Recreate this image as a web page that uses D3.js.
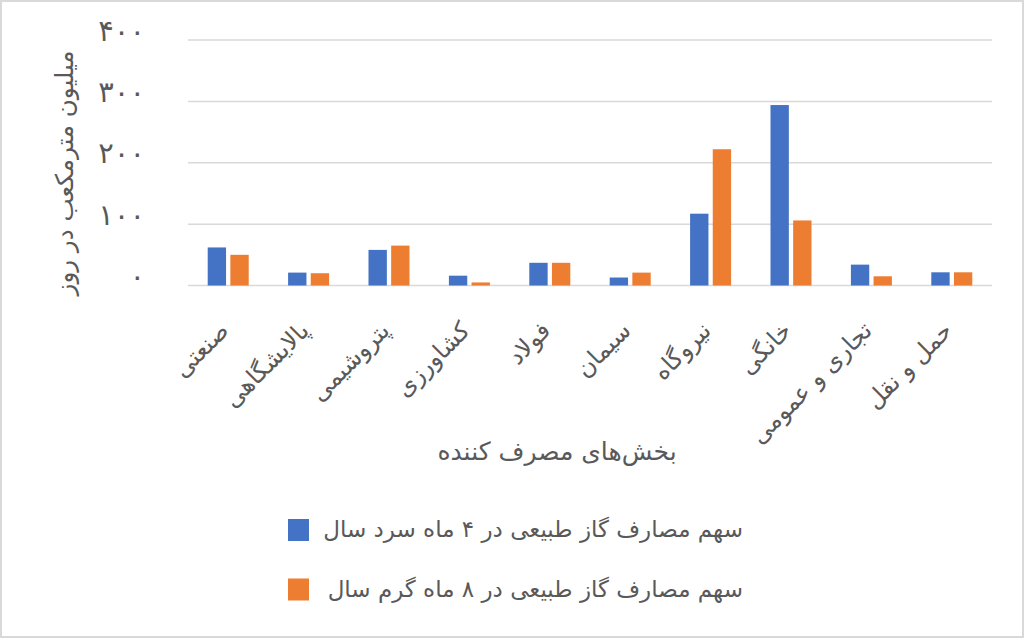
<!DOCTYPE html>
<html>
<head>
<meta charset="utf-8">
<script src="https://cdn.jsdelivr.net/npm/d3@7"></script>
<style>
  html, body { margin: 0; padding: 0; background: #fff; }
  svg { display: block; }
  text { font-family: "DejaVu Sans", sans-serif; fill: #595959; }
</style>
</head>
<body>
<svg id="chart" width="1024" height="638"></svg>
<script>

// categories (consumer sectors)
const categories = ["صنعتی", "پالایشگاهی", "پتروشیمی", "کشاورزی", "فولاد",
                    "سیمان", "نیروگاه", "خانگی", "تجاری و عمومی", "حمل و نقل"];

// series values, million cubic metres per day
const coldMonths = [62, 21, 58, 16, 37, 13, 117, 294, 34, 21.5];
const warmMonths = [50, 20, 65, 5, 37, 21, 222, 106, 15, 21.5];

const seriesNames = ["سهم مصارف گاز طبیعی در ۴ ماه سرد سال",
                     "سهم مصارف گاز طبیعی در ۸ ماه گرم سال"];
const seriesColors = ["#4472c4", "#ed7d31"];

const yTicks = [0, 100, 200, 300, 400];
const yTitle = "میلیون مترمکعب در روز";
const xTitle = "بخش‌های مصرف کننده";


const svg = d3.select("#chart");
const faDigits = "۰۱۲۳۴۵۶۷۸۹";

function _toPersian(n) {
  return String(n).replace(/[0-9]/g, function(d){ return faDigits[+d]; });
}

// chart border
svg.append("rect")
  .attr("x", 1).attr("y", 1)
  .attr("width", 1022).attr("height", 636)
  .attr("fill", "#fff")
  .attr("stroke", "#d9d9d9")
  .attr("stroke-width", 2);

const plot = { left: 188, right: 992, top: 40, bottom: 285.5 };

const x0 = d3.scaleBand()
  .domain(categories)
  .range([plot.left, plot.right])
  .paddingInner(0.49)
  .paddingOuter(0.245);

const x1 = d3.scaleBand()
  .domain([0, 1])
  .range([0, x0.bandwidth()])
  .paddingInner(0.19);

const y = d3.scaleLinear()
  .domain([0, 400])
  .range([plot.bottom, plot.top]);

// gridlines
svg.append("g")
  .selectAll("line")
  .data(yTicks)
  .enter().append("line")
  .attr("x1", plot.left)
  .attr("x2", plot.right)
  .attr("y1", function(d){ return y(d); })
  .attr("y2", function(d){ return y(d); })
  .attr("stroke", "#d9d9d9")
  .attr("stroke-width", 1.5);

// y tick labels
svg.append("g")
  .selectAll("text")
  .data(yTicks)
  .enter().append("text")
  .attr("x", 145)
  .attr("y", function(d){ return y(d); })
  .attr("dy", "0.02em")
  .attr("text-anchor", "end")
  .attr("font-size", 29)
  .text(function(d){ return _toPersian(d); });

// bars
const rows = categories.map(function(c, i){ return { cat: c, vals: [coldMonths[i], warmMonths[i]] }; });

const groups = svg.append("g")
  .selectAll("g")
  .data(rows)
  .enter().append("g")
  .attr("transform", function(d){ return "translate(" + x0(d.cat) + ",0)"; });

groups.selectAll("rect")
  .data(function(d){ return d.vals.map(function(v, k){ return { k: k, v: v }; }); })
  .enter().append("rect")
  .attr("x", function(d){ return x1(d.k); })
  .attr("y", function(d){ return y(d.v); })
  .attr("width", x1.bandwidth())
  .attr("height", function(d){ return y(0) - y(d.v); })
  .attr("fill", function(d){ return seriesColors[d.k]; });

// x category labels, rotated
svg.append("g")
  .selectAll("text")
  .data(categories)
  .enter().append("text")
  .attr("transform", function(d){
    return "translate(" + (x0(d) + x0.bandwidth() / 2 + 2) + "," + 332 + ") rotate(-45)";
  })
  .attr("text-anchor", "end")
  .attr("font-size", 24)
  .text(function(d){ return d; });

// axis titles
svg.append("text")
  .attr("x", 557)
  .attr("y", 460)
  .attr("text-anchor", "middle")
  .attr("font-size", 25)
  .text(xTitle);

svg.append("text")
  .attr("transform", "translate(73,173) rotate(-90)")
  .attr("text-anchor", "middle")
  .attr("font-size", 24.5)
  .text(yTitle);

// legend
const legend = svg.append("g")
  .selectAll("g")
  .data(seriesNames)
  .enter().append("g")
  .attr("transform", function(d, i){ return "translate(0," + (519 + i * 59.5) + ")"; });

legend.append("rect")
  .attr("x", 288)
  .attr("y", 0)
  .attr("width", 21)
  .attr("height", 22)
  .attr("fill", function(d, i){ return seriesColors[i]; });

legend.append("text")
  .attr("x", 743)
  .attr("y", 18)
  .attr("text-anchor", "end")
  .attr("font-size", 23)
  .text(function(d){ return d; });

</script>
</body>
</html>
